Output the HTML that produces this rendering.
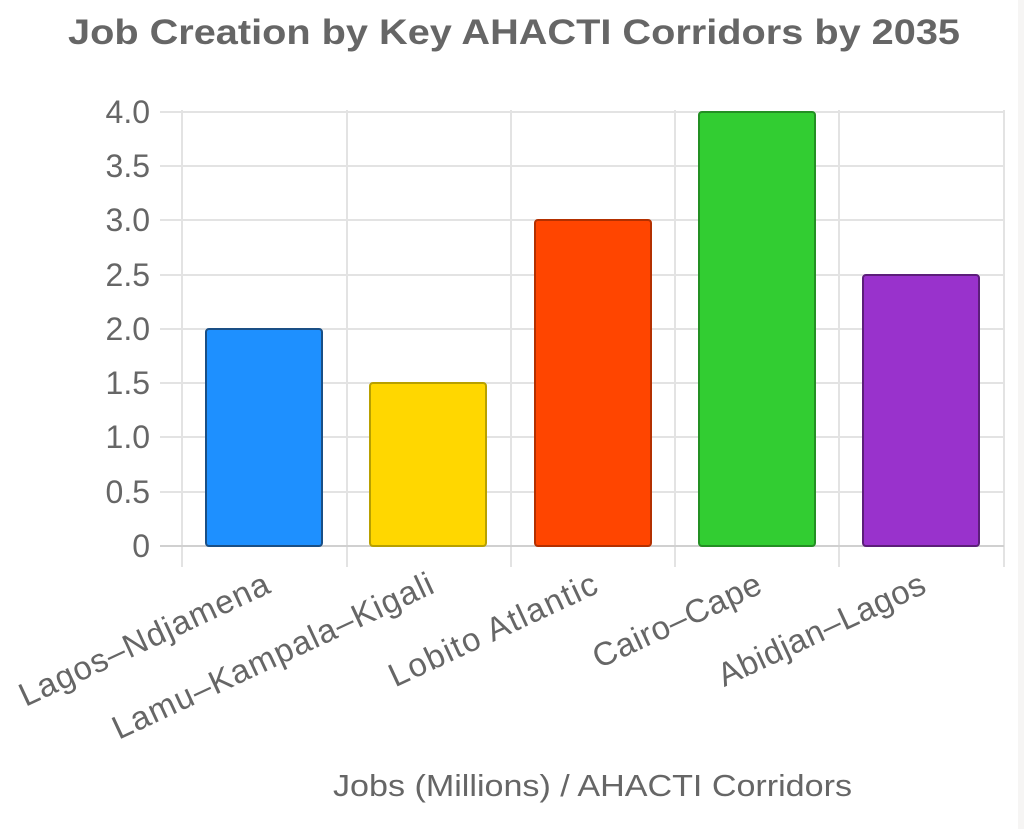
<!DOCTYPE html>
<html><head><style>
html,body{margin:0;padding:0;background:#fff;width:1024px;height:829px;overflow:hidden}
</style></head><body>
<svg width="1024" height="829" xmlns="http://www.w3.org/2000/svg" font-family="Liberation Sans, Arial, sans-serif">
<rect x="1018" y="0" width="6" height="829" fill="#f6f5f4"/>
<text x="68" y="44" font-size="35" font-weight="bold" fill="#666" textLength="892" lengthAdjust="spacingAndGlyphs">Job Creation by Key AHACTI Corridors by 2035</text>
<g stroke="#e3e3e3" stroke-width="2">
<line x1="182" y1="110" x2="182" y2="567"/>
<line x1="347" y1="110" x2="347" y2="567"/>
<line x1="511" y1="110" x2="511" y2="567"/>
<line x1="675" y1="110" x2="675" y2="567"/>
<line x1="839" y1="110" x2="839" y2="567"/>
<line x1="1004" y1="110" x2="1004" y2="567"/>
<line x1="160" y1="112" x2="1004" y2="112"/>
<line x1="160" y1="166" x2="1004" y2="166"/>
<line x1="160" y1="220" x2="1004" y2="220"/>
<line x1="160" y1="275" x2="1004" y2="275"/>
<line x1="160" y1="329" x2="1004" y2="329"/>
<line x1="160" y1="383" x2="1004" y2="383"/>
<line x1="160" y1="437" x2="1004" y2="437"/>
<line x1="160" y1="492" x2="1004" y2="492"/>
</g>
<line x1="160" y1="546" x2="1004" y2="546" stroke="#d0d0d0" stroke-width="2"/>
<g font-size="32" fill="#666" text-anchor="end">
<text x="150" y="123">4.0</text><text x="150" y="177">3.5</text><text x="150" y="231">3.0</text>
<text x="150" y="286">2.5</text><text x="150" y="340">2.0</text><text x="150" y="394">1.5</text>
<text x="150" y="448">1.0</text><text x="150" y="503">0.5</text><text x="150" y="557">0</text>
</g>
<g stroke-width="2">
<rect x="206" y="329" width="116" height="217" rx="3" fill="#1e90ff" stroke="#1a4f85"/>
<rect x="370" y="383" width="116" height="163" rx="3" fill="#ffd700" stroke="#b8a000"/>
<rect x="535" y="220" width="116" height="326" rx="3" fill="#ff4500" stroke="#b33000"/>
<rect x="699" y="112" width="116" height="434" rx="3" fill="#32cd32" stroke="#238f23"/>
<rect x="863" y="275" width="116" height="271" rx="3" fill="#9932cc" stroke="#5c1e7a"/>
</g>
<g font-size="33" fill="#666" text-anchor="end" lengthAdjust="spacingAndGlyphs">
<text transform="translate(272,592) rotate(-25)" textLength="272">Lagos–Ndjamena</text>
<text transform="translate(436,592) rotate(-25)" textLength="350">Lamu–Kampala–Kigali</text>
<text transform="translate(600,592) rotate(-25)" textLength="226">Lobito Atlantic</text>
<text transform="translate(764,592) rotate(-25)" textLength="182">Cairo–Cape</text>
<text transform="translate(928,592) rotate(-25)" textLength="225">Abidjan–Lagos</text>
</g>
<text x="333" y="796" font-size="31" fill="#666" textLength="519" lengthAdjust="spacingAndGlyphs">Jobs (Millions) / AHACTI Corridors</text>
</svg>
</body></html>
